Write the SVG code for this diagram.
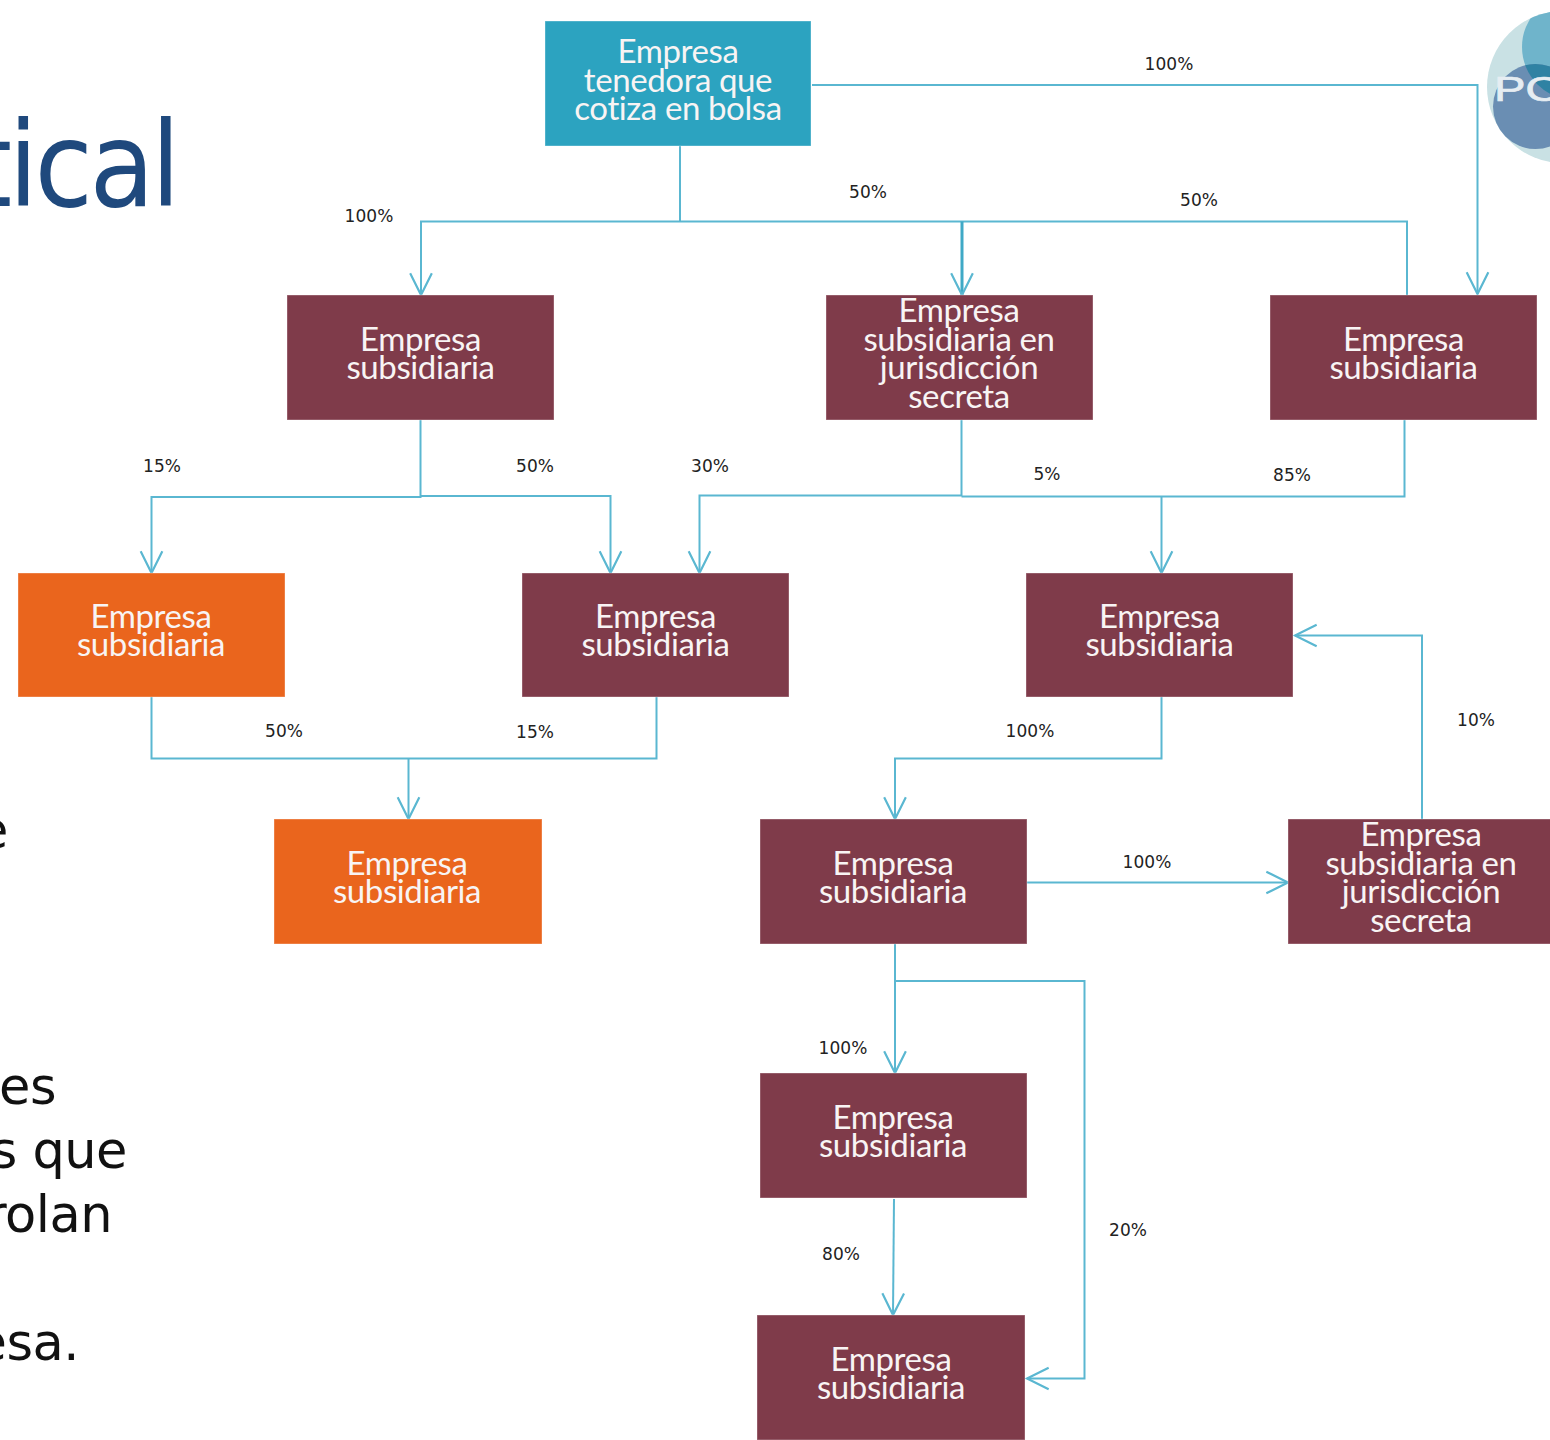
<svg xmlns="http://www.w3.org/2000/svg" width="1550" height="1440" viewBox="0 0 1550 1440">
<style>
.n{font-family:"Lato","Open Sans",sans-serif;font-size:33px;letter-spacing:-.4px;fill:#f8f4f4;text-anchor:middle}
.l{font-family:"DejaVu Sans",sans-serif;font-size:17px;letter-spacing:.05px;fill:#222;text-anchor:middle}
.b{font-family:"DejaVu Sans",sans-serif;font-size:51px;letter-spacing:-.5px;fill:#111;text-anchor:end}
.t{font-family:"DejaVu Sans",sans-serif;font-size:118px;font-stretch:condensed;letter-spacing:-3.5px;fill:#1f497d;text-anchor:end}
.m{fill:#7f3b4a}.o{fill:#ea651d}.h{fill:#2ca3c0}
rect.m,rect.o,rect.h{stroke:#fff;stroke-opacity:.35;stroke-width:1}
.c{fill:none;stroke:#5ab7d1;stroke-width:2}
.k{stroke:#3fa9c6;stroke-width:3}
</style>
<defs>
<marker id="a" markerUnits="userSpaceOnUse" markerWidth="26" markerHeight="26" refX="21" refY="11" viewBox="0 0 24 22" orient="auto"><path d="M1 1L21 11L1 21" fill="none" stroke="#5ab7d1" stroke-width="2"/></marker>
<clipPath id="lc"><circle cx="1563" cy="87" r="76"/></clipPath>
<clipPath id="bc"><circle cx="1535.500" cy="106.500" r="42.500"/></clipPath>
</defs>
<rect width="1550" height="1440" fill="#fff"/>
<g id="logo">
<circle cx="1563" cy="87" r="76" fill="#c9e1e4"/>
<circle cx="1575" cy="47" r="53" fill="#6fb4cb" clip-path="url(#lc)"/>
<circle cx="1535.500" cy="106.500" r="42.500" fill="#6a8eb3"/>
<circle cx="1575" cy="47" r="53" fill="#2f82a3" clip-path="url(#bc)"/>
<text transform="translate(1494 101) scale(1.35 1)" font-family="Liberation Sans,sans-serif" font-size="35" fill="#e6edf2" stroke="#e6edf2" stroke-width=".7">PO</text>
</g>
<text class="t" x="177" y="206">tical</text>
<text class="b" x="8" y="848">e</text>
<text class="b" x="56" y="1104">tes</text>
<text class="b" x="127" y="1168">s que</text>
<text class="b" x="112" y="1232">rolan</text>
<text class="b" x="79" y="1360">esa.</text>
<g id="connectors">
<path class="c" d="M812 85H1477.500V294" marker-end="url(#a)"/>
<path class="c" d="M680 146V221.500"/>
<path class="c" d="M421 295V221.500H1407V295"/>
<path class="c" d="M421 221.500V295" marker-end="url(#a)"/>
<path class="c k" d="M962 221.500V295" marker-end="url(#a)"/>
<path class="c" d="M420.500 420V497H151.500V573" marker-end="url(#a)"/>
<path class="c" d="M420.500 496H610.500V573" marker-end="url(#a)"/>
<path class="c" d="M961.500 420V495.500H699.500V573" marker-end="url(#a)"/>
<path class="c" d="M961.500 496.500H1404.500V420"/>
<path class="c" d="M1161.500 497V573" marker-end="url(#a)"/>
<path class="c" d="M151.500 697V758.500H656.500V697"/>
<path class="c" d="M408.500 758.500V819" marker-end="url(#a)"/>
<path class="c" d="M1161.500 697V758.500H895V819" marker-end="url(#a)"/>
<path class="c" d="M1422 819V635.500H1295" marker-end="url(#a)"/>
<path class="c" d="M1027 882.500H1288" marker-end="url(#a)"/>
<path class="c" d="M895 944V1073" marker-end="url(#a)"/>
<path class="c" d="M895 981H1084.500V1378.500H1027" marker-end="url(#a)"/>
<path class="c" d="M894 1199L893 1315" marker-end="url(#a)"/>
</g>
<g id="n1"><rect class="h" x="545" y="21" width="266" height="125"/><text class="n" x="678" y="63">Empresa</text><text class="n" x="678" y="92">tenedora que</text><text class="n" x="678" y="120">cotiza en bolsa</text></g>
<g id="n2"><rect class="m" x="287" y="295" width="267" height="125"/><text class="n" x="420.500" y="351">Empresa</text><text class="n" x="420.500" y="379">subsidiaria</text></g>
<g id="n3"><rect class="m" x="826" y="295" width="267" height="125"/><text class="n" x="959" y="322">Empresa</text><text class="n" x="959" y="351">subsidiaria en</text><text class="n" x="959" y="379">jurisdicción</text><text class="n" x="959" y="408">secreta</text></g>
<g id="n4"><rect class="m" x="1270" y="295" width="267" height="125"/><text class="n" x="1403.500" y="351">Empresa</text><text class="n" x="1403.500" y="379">subsidiaria</text></g>
<g id="n5"><rect class="o" x="18" y="573" width="267" height="124"/><text class="n" x="151" y="628">Empresa</text><text class="n" x="151" y="656">subsidiaria</text></g>
<g id="n6"><rect class="m" x="522" y="573" width="267" height="124"/><text class="n" x="655.500" y="628">Empresa</text><text class="n" x="655.500" y="656">subsidiaria</text></g>
<g id="n7"><rect class="m" x="1026" y="573" width="267" height="124"/><text class="n" x="1159.500" y="628">Empresa</text><text class="n" x="1159.500" y="656">subsidiaria</text></g>
<g id="n8"><rect class="o" x="274" y="819" width="268" height="125"/><text class="n" x="407" y="875">Empresa</text><text class="n" x="407" y="903">subsidiaria</text></g>
<g id="n9"><rect class="m" x="760" y="819" width="267" height="125"/><text class="n" x="893" y="875">Empresa</text><text class="n" x="893" y="903">subsidiaria</text></g>
<g id="n10"><rect class="m" x="1288" y="819" width="267" height="125"/><text class="n" x="1421" y="846">Empresa</text><text class="n" x="1421" y="875">subsidiaria en</text><text class="n" x="1421" y="903">jurisdicción</text><text class="n" x="1421" y="932">secreta</text></g>
<g id="n11"><rect class="m" x="760" y="1073" width="267" height="125"/><text class="n" x="893" y="1129">Empresa</text><text class="n" x="893" y="1157">subsidiaria</text></g>
<g id="n12"><rect class="m" x="757" y="1315" width="268" height="125"/><text class="n" x="891" y="1371">Empresa</text><text class="n" x="891" y="1399">subsidiaria</text></g>
<g id="labels">
<text class="l" x="1169" y="70">100%</text>
<text class="l" x="369" y="222">100%</text>
<text class="l" x="868" y="198">50%</text>
<text class="l" x="1199" y="206">50%</text>
<text class="l" x="162" y="472">15%</text>
<text class="l" x="535" y="472">50%</text>
<text class="l" x="710" y="472">30%</text>
<text class="l" x="1047" y="480">5%</text>
<text class="l" x="1292" y="481">85%</text>
<text class="l" x="284" y="737">50%</text>
<text class="l" x="535" y="738">15%</text>
<text class="l" x="1030" y="737">100%</text>
<text class="l" x="1476" y="726">10%</text>
<text class="l" x="1147" y="868">100%</text>
<text class="l" x="843" y="1054">100%</text>
<text class="l" x="841" y="1260">80%</text>
<text class="l" x="1128" y="1236">20%</text>
</g>
</svg>
